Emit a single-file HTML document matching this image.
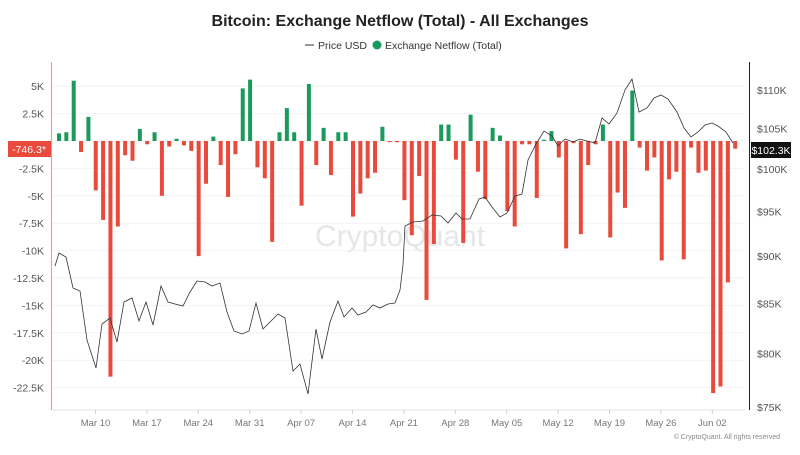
<!DOCTYPE html>
<html><head><meta charset="utf-8"><style>
body{margin:0;background:#fff;width:800px;height:450px;overflow:hidden;font-family:"Liberation Sans",sans-serif}
</style></head><body>
<svg id="c" width="800" height="450" xmlns="http://www.w3.org/2000/svg" font-family="Liberation Sans, sans-serif">
<text x="400" y="26" text-anchor="middle" font-size="16" font-weight="bold" fill="#222">Bitcoin: Exchange Netflow (Total) - All Exchanges</text>
<line x1="305" y1="45" x2="314" y2="45" stroke="#333" stroke-width="1"/>
<text x="318" y="49" font-size="10.5" fill="#333">Price USD</text>
<circle cx="377" cy="45" r="4.5" fill="#1a9a5c"/>
<text x="385" y="49" font-size="10.5" fill="#333">Exchange Netflow (Total)</text>
<text x="400" y="246" text-anchor="middle" font-size="30" fill="#e6e6ea">CryptoQuant</text>
<g id="grid"></g>
<g id="bars"></g>
<polyline id="price" fill="none" stroke="#333" stroke-width="0.8"/>
<line x1="51.5" y1="62" x2="51.5" y2="410" stroke="#e8a09a" stroke-width="1.2"/>
<line x1="749.5" y1="62" x2="749.5" y2="410" stroke="#222" stroke-width="1"/>
<g id="ax" font-size="10.5" fill="#555"></g>
<rect x="8" y="141" width="43" height="16" fill="#e84a3c"/>
<text x="29" y="153" text-anchor="middle" font-size="10.5" fill="#fff">-746.3*</text>
<rect x="751" y="142" width="40" height="16" fill="#111"/>
<text x="771" y="154" text-anchor="middle" font-size="10.5" fill="#fff">$102.3K</text>
<text x="780" y="439" text-anchor="end" font-size="7" fill="#888">© CryptoQuant. All rights reserved</text>
</svg>
<script>
var NS="http://www.w3.org/2000/svg";
function el(p,t,a,txt){var e=document.createElementNS(NS,t);for(var k in a)e.setAttribute(k,a[k]);if(txt)e.textContent=txt;document.getElementById(p).appendChild(e);}
var z=141,s=10.96;
var lt=[[5,"5K"],[2.5,"2.5K"],[0,"0"],[-2.5,"-2.5K"],[-5,"-5K"],[-7.5,"-7.5K"],[-10,"-10K"],[-12.5,"-12.5K"],[-15,"-15K"],[-17.5,"-17.5K"],[-20,"-20K"],[-22.5,"-22.5K"]];
lt.forEach(function(t){var y=z-t[0]*s;el("grid","line",{x1:52,x2:745,y1:y,y2:y,stroke:"#f2f2f2"});if(t[0]!==0)el("ax","text",{x:44,y:y+4,"text-anchor":"end"},t[1]);});
function py(v){return 90+Math.log(110/v)*827.7;}
[110,105,100,95,90,85,80,75].forEach(function(v){el("ax","text",{x:757,y:py(v)+4},"$"+v+"K");});
var dl=["Mar 10","Mar 17","Mar 24","Mar 31","Apr 07","Apr 14","Apr 21","Apr 28","May 05","May 12","May 19","May 26","Jun 02"];
dl.forEach(function(d,i){var x=95.5+i*51.4;el("grid","line",{x1:x,x2:x,y1:410,y2:414,stroke:"#ccc"});el("ax","text",{x:x,y:426,"text-anchor":"middle","font-size":"9.5",fill:"#777"},d);});
el("grid","line",{x1:52,x2:745,y1:410,y2:410,stroke:"#e5e5e5"});
var v=[0.7,0.8,5.5,-1,2.2,-4.5,-7.2,-21.5,-7.8,-1.3,-1.8,1.1,-0.3,0.8,-5,-0.5,0.2,-0.4,-0.9,-10.5,-3.9,0.4,-2.2,-5.1,-1.2,4.8,5.6,-2.4,-3.4,-9.2,0.8,3,0.8,-5.9,5.2,-2.2,1.2,-3.1,0.8,0.8,-6.9,-4.8,-3.4,-2.9,1.3,-0.1,-0.1,
-5.4,-8.6,-3.2,-14.5,-9.4,1.5,1.5,-1.7,-9.3,2.4,-2.8,-5.3,1.2,0.5,-6.4,-7.8,-0.3,-0.3,-5.2,0.1,0.9,-1.5,-9.8,-0.2,-8.5,-2.2,-0.3,1.5,-8.8,-4.7,-6.1,4.6,-0.6,-2.7,-1.5,-10.9,-3.5,-2.8,-10.8,-0.6,-2.9,-2.7,-23,-22.4,-12.9,-0.7];
v.forEach(function(d,i){var x=59+i*7.35;var h=Math.max(Math.abs(d)*s,1.2);var y=d>=0?z-h:z;el("bars","rect",{x:x-2,y:y,width:4,height:h,fill:d>=0?"#1a9a5c":"#e84a3c"});});
var p=[[55,266],[59,253],[66,257],[73,288],[80,291],[87,340],[96,368],[102,324],[110,318],[117,342],[124,302],[132,298],[139,321],[146,302],[153,325],[161,286],[168,302],[175,304],[183,306],[190,292],[197,281],[205,282],[212,286],[220,283],[227,312],[234,331],[242,334],[249,331],[256,303],[263,329],[271,321],[278,314],[285,318],[293,371],[300,364],[308,394],[316,329],[322,359],[330,322],[338,301],[344,317],[352,308],[358,315],[366,312],[373,305],[380,308],[388,304],[395,303],[400,290],[403,265],[405,226],[413,222],[423,221],[432,215],[441,216],[448,223],[456,213],[462,219],[470,219],[479,199],[485,197],[492,207],[500,217],[507,213],[515,196],[522,194],[528,160],[536,144],[544,131],[552,136],[558,146],[565,139],[573,142],[580,139],[587,141],[595,143],[602,118],[609,124],[617,113],[625,90],[632,79],[639,112],[647,108],[654,98],[661,95],[668,99],[677,112],[684,128],[691,137],[698,132],[705,125],[712,123],[718,126],[726,132],[733,143]];
document.getElementById("price").setAttribute("points",p.map(function(q){return q.join(",")}).join(" "));
</script>
</body></html>
